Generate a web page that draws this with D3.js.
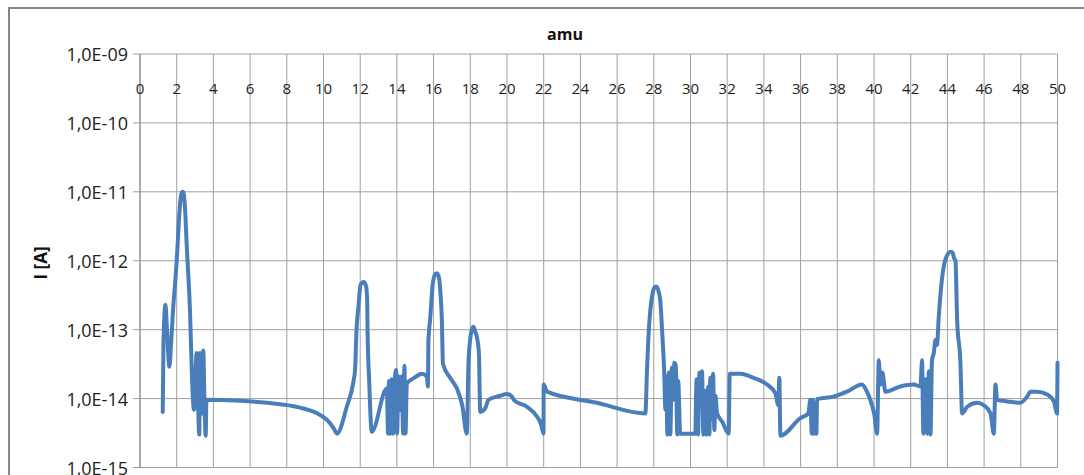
<!DOCTYPE html>
<html lang="en">
<head>
    <meta charset="UTF-8">
    <title>I [A] vs amu</title>
    <style>
        body {
            margin: 0;
            background: #fff;
            font-family: 'Open Sans', sans-serif;
        }
    </style>
</head>
<body>
<script src="https://cdn.jsdelivr.net/npm/d3@7"></script>
<script>

    // mass scan
    var amu = [
        1.24, 1.28, 1.39, 1.47, 1.60, 1.69, 1.80, 2.00, 2.10, 2.18, 2.25, 2.32, 2.38, 2.45, 2.55, 2.73, 2.84,
        2.94, 3.09, 3.16, 3.23, 3.27, 3.36, 3.45, 3.51, 3.58, 3.62,
        5.45, 6.91, 8.72, 9.81, 10.36, 10.58, 10.73, 11.27, 11.63, 11.72, 11.80, 11.90,
        12.02, 12.18, 12.32, 12.38, 12.40, 12.49, 12.63,
        13.45, 13.52, 13.57, 13.63, 13.71, 13.80, 13.88, 13.96, 14.01, 14.09, 14.18, 14.26,
        14.34, 14.41, 14.47, 14.54, 14.94, 15.36, 15.63, 15.69, 15.72, 15.81, 15.95,
        16.09, 16.18, 16.30, 16.38, 16.45, 16.51, 16.90, 17.27, 17.56, 17.81, 17.90, 17.99,
        18.08, 18.17, 18.26, 18.35, 18.47, 18.54, 18.81, 18.99, 19.63, 19.99, 20.27, 20.39,
        21.09, 21.63, 21.86, 21.99, 22.00, 22.18, 24.90,
        27.54, 27.63, 27.73, 27.81, 27.95, 28.08, 28.17, 28.27, 28.35, 28.45,
        28.57, 28.63, 28.68, 28.74, 28.82, 28.90, 28.98, 29.06, 29.12, 29.20, 29.28, 29.33, 29.44,
        30.26, 30.33, 30.41, 30.49, 30.57, 30.63, 30.70, 30.81, 30.86, 30.97, 31.03, 31.08,
        31.14, 31.23, 31.30, 31.36, 31.45, 31.73, 32.08, 32.14, 32.72, 33.43, 34.17, 34.62,
        34.79, 34.84, 34.90, 35.99, 36.42, 36.53, 36.61, 36.67, 36.72, 36.80, 36.86, 36.90,
        37.80, 38.53, 39.35, 39.59, 39.80, 40.02, 40.17, 40.26, 40.35, 40.46, 40.62,
        41.44, 42.16, 42.53, 42.62, 42.69, 42.80, 42.91, 42.99, 43.08, 43.16, 43.26, 43.35,
        43.43, 43.53, 43.72, 43.85, 43.99, 44.17, 44.28, 44.36, 44.44, 44.53, 44.71, 44.80,
        45.08, 45.62, 45.98, 46.35, 46.53, 46.62, 46.71, 47.26, 47.98, 48.35, 48.53, 48.89,
        49.44, 49.80, 49.98, 50.00
    ];

    var current = [
        6.4e-15, 7.1e-14, 2.3e-13, 1.0e-13, 2.9e-14, 6.0e-14, 1.9e-13, 1.0e-12, 3.0e-12, 6.5e-12, 9.3e-12, 1.0e-11, 9.4e-12, 6.0e-12, 1.6e-12, 1.7e-13, 1.8e-14,
        6.9e-15, 4.6e-14, 9.6e-15, 3.0e-15, 4.6e-14, 6.0e-15, 5.0e-14, 9.6e-15, 2.9e-15, 9.6e-15,
        9.3e-15, 8.7e-15, 7.4e-15, 5.8e-15, 4.4e-15, 3.6e-15, 3.1e-15, 7.6e-15, 1.75e-14, 2.6e-14, 1.0e-13, 2.1e-13,
        4.5e-13, 4.9e-13, 4.3e-13, 2.7e-13, 1.0e-13, 1.8e-14, 3.3e-15,
        1.4e-14, 3.1e-15, 1.8e-14, 3.1e-15, 1.9e-14, 3.1e-15, 1.9e-14, 2.6e-14, 3.1e-15, 2.1e-14, 6.8e-15, 2.1e-14,
        3.1e-15, 3.0e-14, 3.1e-15, 1.65e-14, 2.0e-14, 2.3e-14, 2.1e-14, 1.5e-14, 7.1e-14, 1.4e-13, 4.5e-13,
        6.4e-13, 6.6e-13, 5.6e-13, 3.2e-13, 1.4e-13, 3.2e-14, 2.0e-14, 1.4e-14, 8.0e-15, 3.1e-15, 3.2e-14, 7.1e-14,
        1.0e-13, 1.1e-13, 9.5e-14, 8.0e-14, 4.6e-14, 6.4e-15, 7.2e-15, 9.6e-15, 1.1e-14, 1.17e-14, 1.07e-14, 9.4e-15,
        7.6e-15, 5.5e-15, 4.2e-15, 3.1e-15, 1.6e-14, 1.26e-14, 8.7e-15,
        6.1e-15, 2.6e-14, 1.0e-13, 1.9e-13, 3.5e-13, 4.2e-13, 4.2e-13, 3.5e-13, 2.7e-13, 1.0e-13,
        2.3e-14, 7.0e-15, 2.1e-14, 3.0e-15, 2.4e-14, 3.0e-15, 2.8e-14, 9.6e-15, 3.3e-14, 3.0e-14, 3.0e-15, 1.8e-14, 3.1e-15,
        3.1e-15, 1.9e-14, 3.0e-15, 2.4e-14, 9.6e-15, 2.5e-14, 3.0e-15, 1.3e-14, 3.0e-15, 1.5e-14, 3.0e-15, 2.0e-14,
        5.0e-15, 2.3e-14, 3.5e-15, 1.1e-14, 6.1e-15, 4.6e-15, 3.1e-15, 2.3e-14, 2.3e-14, 2.0e-14, 1.6e-14, 1.2e-14,
        8.0e-15, 2.0e-14, 2.9e-15, 5.2e-15, 6.1e-15, 9.6e-15, 3.1e-15, 9.6e-15, 3.1e-15, 8.7e-15, 3.1e-15, 9.8e-15,
        1.07e-14, 1.26e-14, 1.6e-14, 1.3e-14, 9.6e-15, 5.8e-15, 3.1e-15, 3.6e-14, 1.6e-14, 2.4e-14, 1.26e-14,
        1.5e-14, 1.6e-14, 1.5e-14, 3.6e-14, 3.1e-15, 1.9e-14, 3.1e-15, 2.5e-14, 3.0e-15, 3.6e-14, 4.6e-14, 7.1e-14,
        6.0e-14, 1.55e-13, 5.9e-13, 9.6e-13, 1.2e-12, 1.35e-12, 1.33e-12, 1.1e-12, 1.0e-12, 1.4e-13, 3.3e-14, 6.1e-15,
        7.6e-15, 8.7e-15, 8.0e-15, 6.1e-15, 3.1e-15, 1.6e-14, 9.6e-15, 9.1e-15, 8.7e-15, 1.07e-14, 1.26e-14, 1.26e-14,
        1.15e-14, 9.1e-15, 6.1e-15, 3.3e-14
    ];

    var xTicks = [0, 2, 4, 6, 8, 10, 12, 14, 16, 18, 20, 22, 24, 26, 28, 30, 32, 34, 36, 38, 40, 42, 44, 46, 48, 50];
    var yTicks = [1e-9, 1e-10, 1e-11, 1e-12, 1e-13, 1e-14, 1e-15];
    var yTickLabels = ['1,0E-09', '1,0E-10', '1,0E-11', '1,0E-12', '1,0E-13', '1,0E-14', '1,0E-15'];

    var width = 1084,
        height = 475;

    var plotLeft = 140,
        plotRight = 1057.5,
        plotTop = 54,
        plotBottom = 467.5;

    var x = d3.scaleLinear()
        .domain([0, 50])
        .range([plotLeft, plotRight]);

    var y = d3.scaleLog()
        .domain([1e-15, 1e-9])
        .range([plotBottom, plotTop]);

    var svg = d3.select('body').append('svg')
        .attr('width', width)
        .attr('height', height)
        .style('display', 'block');

    svg.append('rect')
        .attr('width', width)
        .attr('height', height)
        .attr('fill', '#fff');

    // chart frame
    svg.append('rect')
        .attr('x', 9)
        .attr('y', 8)
        .attr('width', 1110)
        .attr('height', 520)
        .attr('fill', 'none')
        .attr('stroke', '#868686')
        .attr('stroke-width', 2);

    // vertical grid
    svg.append('g')
        .selectAll('line')
        .data(xTicks)
        .enter()
        .append('line')
        .attr('x1', d => x(d))
        .attr('x2', d => x(d))
        .attr('y1', plotTop)
        .attr('y2', plotBottom)
        .attr('stroke', '#a0a0a0')
        .attr('stroke-width', 1);

    // horizontal grid with small ticks to the left
    svg.append('g')
        .selectAll('line')
        .data(yTicks)
        .enter()
        .append('line')
        .attr('x1', plotLeft - 7)
        .attr('x2', plotRight)
        .attr('y1', d => y(d))
        .attr('y2', d => y(d))
        .attr('stroke', '#a0a0a0')
        .attr('stroke-width', 1);

    svg.append('line')
        .attr('x1', plotLeft)
        .attr('x2', plotLeft)
        .attr('y1', plotTop)
        .attr('y2', plotBottom)
        .attr('stroke', '#8a8a8a');

    svg.append('g')
        .selectAll('text')
        .data(yTicks)
        .enter()
        .append('text')
        .attr('x', plotLeft - 12)
        .attr('y', d => y(d))
        .attr('text-anchor', 'end')
        .attr('dominant-baseline', 'central')
        .attr('font-size', 18)
        .attr('fill', '#222')
        .text((d, i) => yTickLabels[i]);

    svg.append('g')
        .selectAll('text')
        .data(xTicks)
        .enter()
        .append('text')
        .attr('x', d => x(d))
        .attr('y', 88)
        .attr('text-anchor', 'middle')
        .attr('dominant-baseline', 'central')
        .attr('font-size', 15)
        .attr('fill', '#222')
        .text(d => d);

    svg.append('text')
        .attr('x', 565)
        .attr('y', 34)
        .attr('text-anchor', 'middle')
        .attr('dominant-baseline', 'central')
        .attr('font-size', 16)
        .attr('font-weight', 'bold')
        .attr('fill', '#111')
        .text('amu');

    svg.append('text')
        .attr('transform', 'translate(40,263) rotate(-90)')
        .attr('text-anchor', 'middle')
        .attr('dominant-baseline', 'central')
        .attr('font-size', 17)
        .attr('font-weight', 'bold')
        .attr('fill', '#111')
        .text('I [A]');

    var line = d3.line()
        .curve(d3.curveMonotoneX)
        .x(d => x(d[0]))
        .y(d => y(d[1]));

    svg.append('path')
        .datum(d3.zip(amu, current))
        .attr('fill', 'none')
        .attr('stroke', '#4a7ebb')
        .attr('stroke-width', 4)
        .attr('stroke-linejoin', 'round')
        .attr('stroke-linecap', 'round')
        .attr('d', line);
</script>
</body>
</html>
